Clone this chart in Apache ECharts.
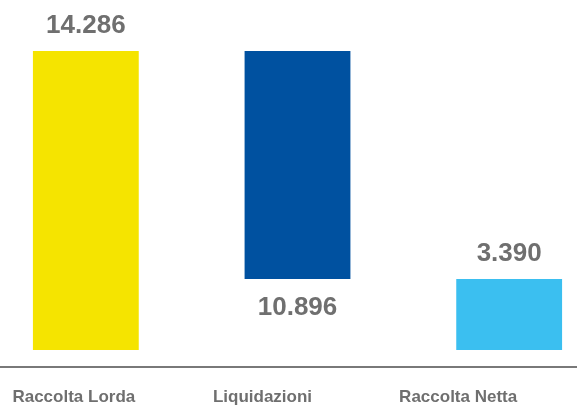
<!DOCTYPE html>
<html>
<head>
<meta charset="utf-8">
<script src="https://cdn.jsdelivr.net/npm/echarts@6/dist/echarts.min.js"></script>
<style>
  html, body { margin: 0; padding: 0; background: #fff; }
  #chart { width: 577px; height: 405px; }
</style>
</head>
<body>
<div id="chart"></div>
<script>
// categorie e valori (waterfall)
var categories = ["Raccolta Lorda", "Liquidazioni", "Raccolta Netta"];
var values = [14286, 10896, 3390];
var colors = ["#F5E400", "#0051A0", "#3BBFF0"];
var labelPos = ["top", "bottom", "top"];

// base invisibile: la barra liquidazioni parte da lorda - liquidazioni
var base = [0, values[0] - values[1], 0];

// le etichette dell'asse non sono centrate sotto le barre (spostate a sinistra)
var labelShift = [12, 35, 51];

function fmt(v) {
    return v.toLocaleString("it-IT");
}

var mychart = echarts.init(document.getElementById("chart"));

var option = {
    animation: false,
    grid: {
        top: 51,
        bottom: 55,
        left: -20,
        right: -38,
        outerBoundsMode: "none",
        containLabel: false
    },
    xAxis: {
        type: "category",
        data: categories.map(function(c, i) {
            return {
                value: c,
                textStyle: {
                    padding: [0, labelShift[i] * 2, 0, 0]
                }
            };
        }),
        offset: 17,
        axisTick: { show: false },
        axisLine: {
            onZero: false,
            lineStyle: { color: "#4d4d4d", width: 1.5 }
        },
        axisLabel: {
            color: "#6f6f6f",
            fontFamily: "Liberation Sans, Arial, sans-serif",
            fontWeight: "bold",
            fontSize: 17,
            margin: 22
        }
    },
    yAxis: {
        type: "value",
        min: 0,
        max: "dataMax",
        show: false
    },
    series: [{
            type: "bar",
            stack: "w",
            silent: true,
            itemStyle: { color: "transparent" },
            data: base
        },
        {
            type: "bar",
            stack: "w",
            barWidth: "50%",
            data: values.map(function(v, i) {
                return {
                    value: v,
                    itemStyle: { color: colors[i] },
                    label: {
                        show: true,
                        position: labelPos[i],
                        distance: labelPos[i] === "top" ? 12 : 16,
                        formatter: fmt(v),
                        color: "#6f6f6f",
                        fontFamily: "Liberation Sans, Arial, sans-serif",
                        fontWeight: "bold",
                        fontSize: 26
                    }
                };
            })
        }
    ]
};

mychart.setOption(option);
</script>
</body>
</html>
